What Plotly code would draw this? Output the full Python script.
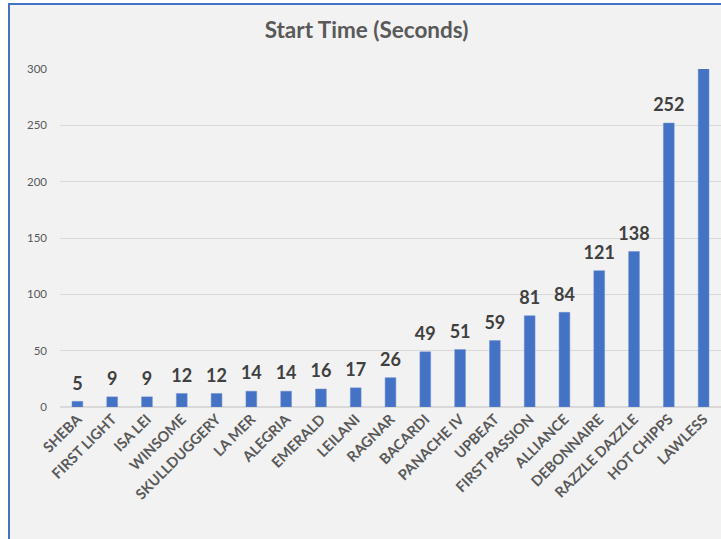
import plotly.graph_objects as go

categories = ["SHEBA", "FIRST LIGHT", "ISA LEI", "WINSOME", "SKULLDUGGERY", "LA MER",
              "ALEGRIA", "EMERALD", "LEILANI", "RAGNAR", "BACARDI", "PANACHE IV",
              "UPBEAT", "FIRST PASSION", "ALLIANCE", "DEBONNAIRE", "RAZZLE DAZZLE",
              "HOT CHIPPS", "LAWLESS"]
values = [5, 9, 9, 12, 12, 14, 14, 16, 17, 26, 49, 51, 59, 81, 84, 121, 138, 252, 320]
y_ticks = [0, 50, 100, 150, 200, 250, 300]

W, H = 721, 539
ml, mr, mt, mb = 60, 0, 69, 132
pw = W - ml - mr
ph = H - mt - mb
FONT = "Lato"

fig = go.Figure()
fig.add_trace(go.Bar(
    x=categories, y=values,
    marker=dict(color="#4472C4", line=dict(color="#6a8fd6", width=0.5)),
    hoverinfo="skip",
))
fig.add_trace(go.Scatter(
    x=categories, y=values, mode="markers+text",
    marker=dict(size=10, opacity=0),
    text=["<b>%d</b>" % v for v in values],
    textposition="top center",
    textfont=dict(family=FONT, size=18, color="#404040"),
    cliponaxis=True, hoverinfo="skip",
))

fig.add_shape(type="rect", xref="paper", yref="paper",
              x0=(9 - ml) / pw, x1=1.2, y0=-(H - mt) / ph * 1.2, y1=1 + (mt - 4) / ph,
              fillcolor="#f2f2f2", line=dict(color="#4472C4", width=2), layer="below")

fig.update_layout(
    width=W, height=H,
    margin=dict(l=ml, r=mr, t=mt, b=mb),
    paper_bgcolor="white", plot_bgcolor="rgba(0,0,0,0)",
    bargap=0.69,
    showlegend=False,
    title=dict(text="<b>Start Time (Seconds)</b>", x=366.5 / W, xanchor="center",
               y=1 - 30 / H, yanchor="middle",
               font=dict(family=FONT, size=22.5, color="#595959")),
    xaxis=dict(tickangle=-45, tickfont=dict(family=FONT, size=14.5, color="#595959"),
               range=[-0.5, len(categories) - 0.5],
               showgrid=False, showline=False, ticks="", automargin=False,
               tickprefix="<b>", ticksuffix="</b>"),
    yaxis=dict(range=[0, 300], tickvals=y_ticks, showgrid=True, gridcolor="#d9d9d9",
               gridwidth=1, zeroline=True, zerolinecolor="#d9d9d9", zerolinewidth=1.5,
               tickfont=dict(family=FONT, size=11.5, color="#595959"), automargin=False,
               tickprefix="<b>", ticksuffix="</b>", ticklabelstandoff=12),
)

fig.write_html("out.html", config={"displayModeBar": False},
               post_script="document.body.style.margin='0';document.body.style.overflow='hidden';")
